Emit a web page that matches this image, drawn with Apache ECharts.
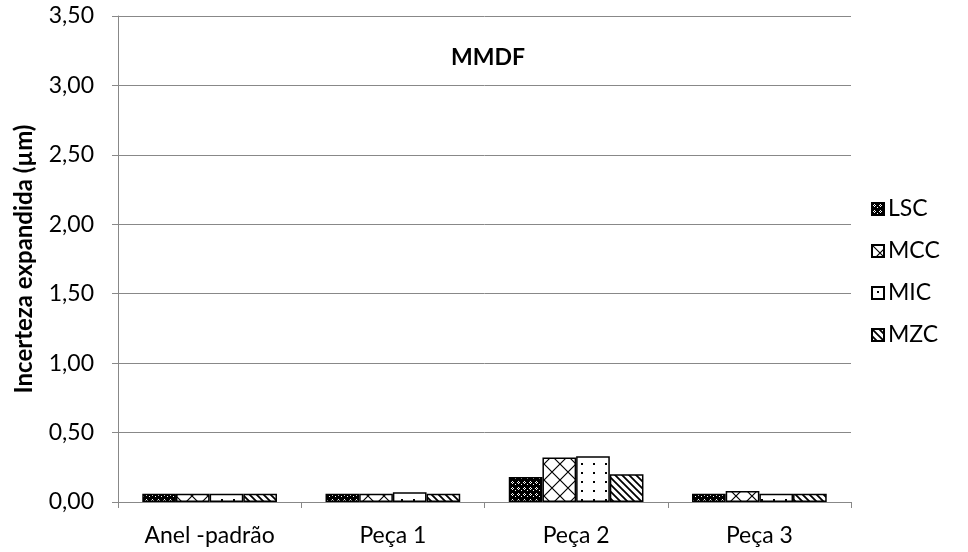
<!DOCTYPE html>
<html>
<head>
<meta charset="utf-8">
<script src="https://cdn.jsdelivr.net/npm/echarts@6/dist/echarts.min.js"></script>
<style>html,body{margin:0;padding:0;background:#fff}#c{width:968px;height:552px}</style>
</head>
<body>
<div id="c"></div>
<script>
const categories = ['Anel -padrão', 'Peça 1', 'Peça 2', 'Peça 3'];
const seriesNames = ['LSC', 'MCC', 'MIC', 'MZC'];
const LSC = [0.06, 0.06, 0.18, 0.06];
const MCC = [0.06, 0.06, 0.32, 0.08];
const MIC = [0.06, 0.07, 0.33, 0.06];
const MZC = [0.06, 0.06, 0.20, 0.06];
const yTicks = [0, 0.5, 1, 1.5, 2, 2.5, 3, 3.5];

function tile(w, h, draw) {
  const c = document.createElement('canvas');
  c.width = w; c.height = h;
  const g = c.getContext('2d');
  draw(g, w, h);
  return { image: c, repeat: 'repeat' };
}
const patLSC = tile(6, 6, (g) => {
  g.fillStyle = '#000'; g.fillRect(0, 0, 6, 6);
  g.fillStyle = '#fff';
  g.fillRect(2, 1, 1, 1); g.fillRect(1, 2, 1, 1); g.fillRect(3, 2, 1, 1); g.fillRect(2, 3, 1, 1);
  g.fillRect(5, 4, 1, 1);
});
const patMCC = tile(16, 16, (g, w, h) => {
  g.fillStyle = '#fff'; g.fillRect(0, 0, w, h);
  g.strokeStyle = '#000'; g.lineWidth = 1.2;
  g.beginPath(); g.moveTo(0, 0); g.lineTo(w, h); g.moveTo(w, 0); g.lineTo(0, h); g.stroke();
});
const patMIC = tile(12, 9, (g, w, h) => {
  g.fillStyle = '#fff'; g.fillRect(0, 0, w, h);
  g.fillStyle = '#000'; g.fillRect(5, 4, 2, 2);
});
const patMZC = tile(7, 7, (g, w, h) => {
  g.fillStyle = '#fff'; g.fillRect(0, 0, w, h);
  g.strokeStyle = '#000'; g.lineWidth = 1.8;
  g.beginPath();
  for (let k = -1; k <= 1; k++) { g.moveTo(k * w - 1, -1); g.lineTo(k * w + w + 1, h + 1); }
  g.stroke();
});
const patterns = [patLSC, patMCC, patMIC, patMZC];
const dataSets = [LSC, MCC, MIC, MZC];

const FONT = 'Lato, "Open Sans", sans-serif';
const FS = 23;
const chart = echarts.init(document.getElementById('c'), null, { renderer: 'canvas' });
chart.setOption({
  animation: false,
  backgroundColor: '#fff',
  title: {
    text: 'MMDF', left: 483, top: 41, textAlign: 'center',
    textStyle: { fontFamily: FONT, fontSize: 23, fontWeight: 'bold', color: '#000' }
  },
  grid: { left: 118, right: 117, top: 16, bottom: 50 },
  legend: {
    orient: 'vertical', left: 866, top: 190,
    itemWidth: 12, itemHeight: 12, itemGap: 14, icon: 'rect',
    textStyle: { fontFamily: FONT, fontSize: FS, color: '#000', lineHeight: 28, padding: [0, 0, 0, -1] },
    data: seriesNames
  },
  xAxis: {
    type: 'category', data: categories,
    axisLine: { lineStyle: { color: '#888', width: 1 } },
    axisTick: { show: true, length: 6, lineStyle: { color: '#888' } },
    axisLabel: { fontFamily: FONT, fontSize: FS, color: '#000', margin: 22 }
  },
  yAxis: {
    type: 'value', min: 0, max: 3.5, interval: 0.5,
    name: 'Incerteza expandida (µm)', nameLocation: 'middle', nameGap: 82, nameRotate: 90,
    nameTextStyle: { fontFamily: FONT, fontSize: 24, fontWeight: 'bold', color: '#000' },
    axisLine: { show: true, lineStyle: { color: '#888' } },
    axisTick: { show: true, length: 6, inside: false, lineStyle: { color: '#888' } },
    splitLine: { show: true, lineStyle: { color: '#888', width: 1 } },
    axisLabel: {
      fontFamily: FONT, fontSize: FS, color: '#000', margin: 24,
      formatter: v => yTicks.includes(v) ? v.toFixed(2).replace('.', ',') : ''
    }
  },
  series: seriesNames.map((n, i) => ({
    name: n, type: 'bar', data: dataSets[i],
    barGap: '0%', barCategoryGap: '26.5%',
    itemStyle: { color: patterns[i], borderColor: '#000', borderWidth: 1.5 }
  }))
});
</script>
</body>
</html>
